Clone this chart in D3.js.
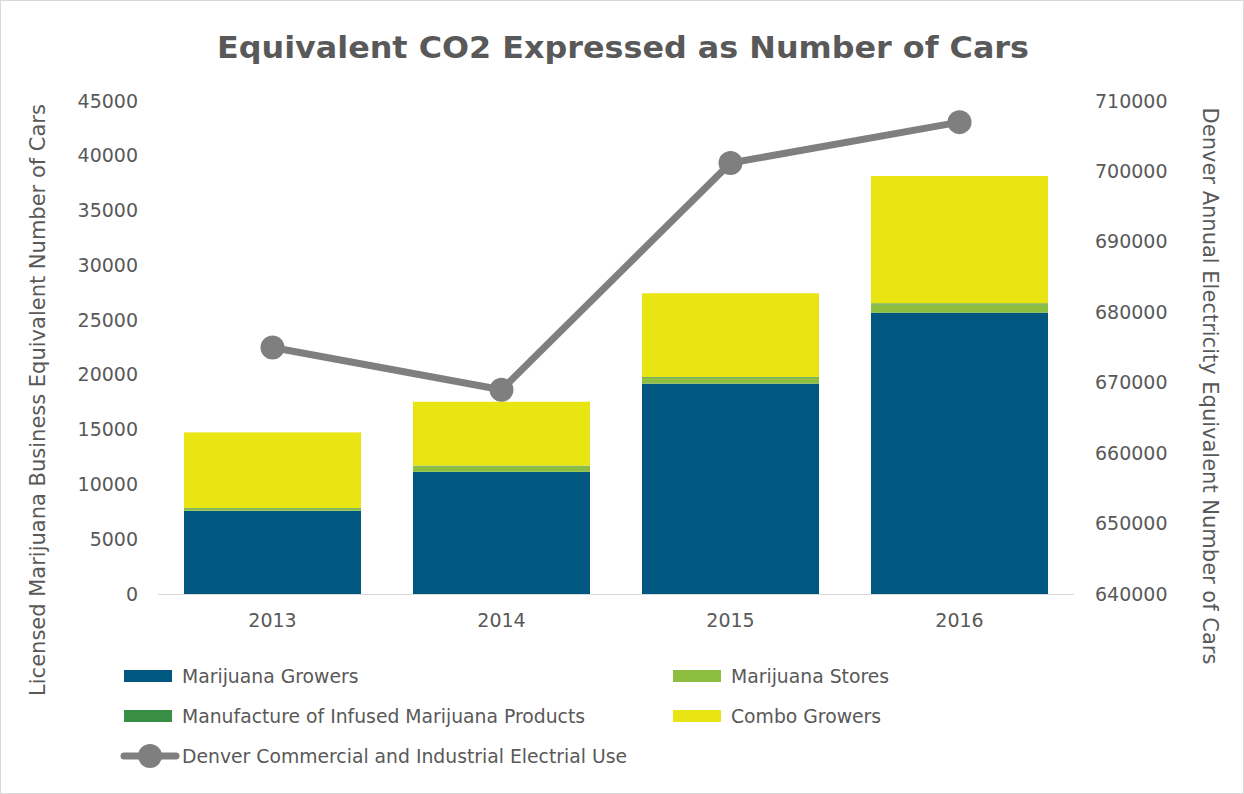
<!DOCTYPE html>
<html><head><meta charset="utf-8">
<script src="https://cdn.jsdelivr.net/npm/d3@7"></script>
<style>
body{margin:0;background:#fff;}
svg{display:block;font-family:"DejaVu Sans",sans-serif;}
</style></head>
<body><svg id="c" width="1244" height="794"></svg>
<script>
const years = ["2013","2014","2015","2016"];
const growers = [7600, 11150, 19200, 25680];
const stores = [200, 500, 550, 750];
const manufacture = [50, 60, 60, 100];
const combo = [6900, 5840, 7640, 11620];
const electric = [675000, 669000, 701200, 707000];
const leftTicks = [0,5000,10000,15000,20000,25000,30000,35000,40000,45000];
const rightTicks = [640000,650000,660000,670000,680000,690000,700000,710000];

const seriesNames = ["Marijuana Growers","Marijuana Stores","Manufacture of Infused Marijuana Products","Combo Growers"];
const seriesData = [growers, stores, manufacture, combo];
const colors = ["#00577F","#8DBE40","#3A8E45","#E8E512"];
const lineColor = "#7F7F7F";
const textColor = "#595959";

const svg = d3.select("#c");
svg.append("rect").attr("x",0.5).attr("y",0.5).attr("width",1243).attr("height",793)
  .attr("fill","#fff").attr("stroke","#D9D9D9");

const x = d3.scaleBand().domain(years).range([158,1074]).paddingInner(0.227).paddingOuter(0.1135);
const yL = d3.scaleLinear().domain([0,45000]).range([594,101]);
const yR = d3.scaleLinear().domain([640000,710000]).range([594,101]);

const rows = years.map((yr,i)=>{const o={year:yr}; seriesNames.forEach((s,k)=>o[s]=seriesData[k][i]); return o;});
const stack = d3.stack().keys(seriesNames)(rows);

svg.append("g").selectAll("g").data(stack).join("g")
  .attr("fill",(d,i)=>colors[i])
  .selectAll("rect").data(d=>d).join("rect")
  .attr("x",d=>x(d.data.year)).attr("width",x.bandwidth())
  .attr("y",d=>yL(d[1])).attr("height",d=>yL(d[0])-yL(d[1]));

// baseline
svg.append("line").attr("x1",158).attr("x2",1074).attr("y1",594.5).attr("y2",594.5)
  .attr("stroke","#D9D9D9").attr("stroke-width",1);

// axes
const gL = svg.append("g").attr("transform","translate(148,0)")
  .call(d3.axisLeft(yL).tickValues(leftTicks).tickSize(0).tickPadding(10).tickFormat(d3.format("d")));
const gR = svg.append("g").attr("transform","translate(1085,0)")
  .call(d3.axisRight(yR).tickValues(rightTicks).tickSize(0).tickPadding(10).tickFormat(d3.format("d")));
const gX = svg.append("g").attr("transform","translate(0,594)")
  .call(d3.axisBottom(x).tickSize(0).tickPadding(20));
[gL,gR,gX].forEach(g=>{
  g.select(".domain").remove();
  g.selectAll("text").attr("fill",textColor).attr("font-size",19).attr("font-family","DejaVu Sans");
});

// line
const line = d3.line().x((d,i)=>x(years[i])+x.bandwidth()/2).y(d=>yR(d));
svg.append("path").datum(electric).attr("d",line).attr("fill","none")
  .attr("stroke",lineColor).attr("stroke-width",7).attr("stroke-linejoin","round");
svg.append("g").selectAll("circle").data(electric).join("circle")
  .attr("cx",(d,i)=>x(years[i])+x.bandwidth()/2).attr("cy",d=>yR(d)).attr("r",12).attr("fill",lineColor);

// title
svg.append("text").attr("x",623).attr("y",58).attr("text-anchor","middle")
  .attr("font-size",31).attr("font-weight","bold").attr("fill",textColor)
  .attr("textLength",812).attr("lengthAdjust","spacingAndGlyphs")
  .text("Equivalent CO2 Expressed as Number of Cars");

// axis titles
svg.append("text").attr("transform","translate(45,400) rotate(-90)").attr("text-anchor","middle")
  .attr("font-size",21).attr("fill",textColor)
  .text("Licensed Marijuana Business Equivalent Number of Cars");
svg.append("text").attr("transform","translate(1203,386) rotate(90)").attr("text-anchor","middle")
  .attr("font-size",21).attr("fill",textColor)
  .text("Denver Annual Electricity Equivalent Number of Cars");

// legend
const legPos = [[124,676],[673,676],[124,716],[673,716]];
const leg = svg.append("g");
seriesNames.forEach((s,i)=>{
  const [lx,ly] = legPos[i];
  leg.append("rect").attr("x",lx).attr("y",ly-6).attr("width",48).attr("height",12).attr("fill",colors[i]);
  leg.append("text").attr("x",lx+58).attr("y",ly).attr("dy","0.35em").attr("font-size",18.8).attr("fill",textColor).text(s);
});
leg.append("line").attr("x1",124).attr("x2",176).attr("y1",756).attr("y2",756)
  .attr("stroke",lineColor).attr("stroke-width",7).attr("stroke-linecap","round");
leg.append("circle").attr("cx",150).attr("cy",756).attr("r",12).attr("fill",lineColor);
leg.append("text").attr("x",182).attr("y",756).attr("dy","0.35em").attr("font-size",18.8).attr("fill",textColor)
  .text("Denver Commercial and Industrial Electrial Use");
</script></body></html>
